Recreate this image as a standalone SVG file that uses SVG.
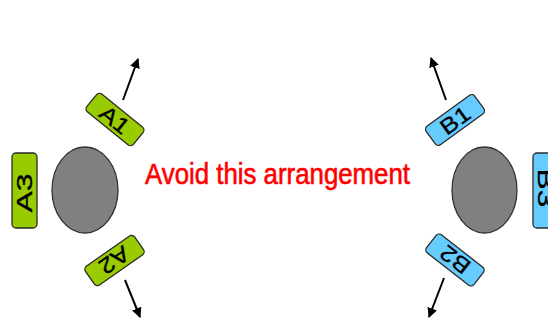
<svg xmlns="http://www.w3.org/2000/svg" width="548" height="324" viewBox="0 0 548 324">
<style>
.g{fill:#99cc00;stroke:#2a2a2a;stroke-width:1.3}
.b{fill:#66ccff;stroke:#2a2a2a;stroke-width:1.3}
.c{fill:#808080;stroke:#333;stroke-width:1.3}
.t{font-family:"Liberation Sans",Arial,sans-serif;font-size:22px;fill:#000;stroke:#000;stroke-width:0.3;text-anchor:middle}
.arr{stroke:#000;stroke-width:2;fill:none;marker-end:url(#ah)}
</style>
<defs>
<marker id="ah" viewBox="0 0 10 10" refX="9" refY="5" markerWidth="5" markerHeight="5" orient="auto" markerUnits="strokeWidth">
<path d="M0,0 L10,5 L0,10 z" fill="#000"/>
</marker>
</defs>
<rect width="548" height="324" fill="#fff"/>
<g id="circleA"><ellipse class="c" cx="85" cy="190" rx="33" ry="43"/></g>
<g id="circleB"><ellipse class="c" cx="484.5" cy="190" rx="32.5" ry="43"/></g>
<g id="A3"><rect class="g" x="12" y="153" width="25" height="75" rx="4"/><text class="t" transform="translate(32,193) rotate(-90)" textLength="39" lengthAdjust="spacingAndGlyphs">A3</text></g>
<g id="B3"><rect class="b" x="533" y="153" width="25" height="75" rx="4"/><text class="t" transform="translate(537.5,188) rotate(90)" textLength="39" lengthAdjust="spacingAndGlyphs">B3</text></g>
<g id="A1" transform="translate(115,119.5) rotate(39)"><rect class="g" x="-30" y="-11.5" width="60" height="23" rx="4"/><text class="t" x="0" y="8" textLength="32" lengthAdjust="spacingAndGlyphs">A1</text></g>
<g id="A2" transform="translate(114.5,260.5) rotate(-35)"><rect class="g" x="-30" y="-11.5" width="60" height="23" rx="4"/><text class="t" transform="rotate(180)" x="0" y="8" textLength="32" lengthAdjust="spacingAndGlyphs">A2</text></g>
<g id="B1" transform="translate(455,120) rotate(-36)"><rect class="b" x="-30" y="-11.5" width="60" height="23" rx="4"/><text class="t" x="0" y="8" textLength="32" lengthAdjust="spacingAndGlyphs">B1</text></g>
<g id="B2" transform="translate(455,260) rotate(38)"><rect class="b" x="-30" y="-11.5" width="60" height="23" rx="4"/><text class="t" transform="rotate(180)" x="0" y="8" textLength="32" lengthAdjust="spacingAndGlyphs">B2</text></g>
<g id="connectors">
<line class="arr" x1="123" y1="100" x2="138" y2="59"/>
<line class="arr" x1="125" y1="280" x2="140" y2="317"/>
<line class="arr" x1="446" y1="100" x2="431" y2="58"/>
<line class="arr" x1="444" y1="278" x2="429" y2="317"/>
</g>
<g id="caption"><text x="277.5" y="184" font-family="'Liberation Sans',Arial,sans-serif" font-size="29" fill="#ff0000" stroke="#ff0000" stroke-width="0.6" text-anchor="middle" textLength="265" lengthAdjust="spacingAndGlyphs">Avoid this arrangement</text></g>
</svg>
